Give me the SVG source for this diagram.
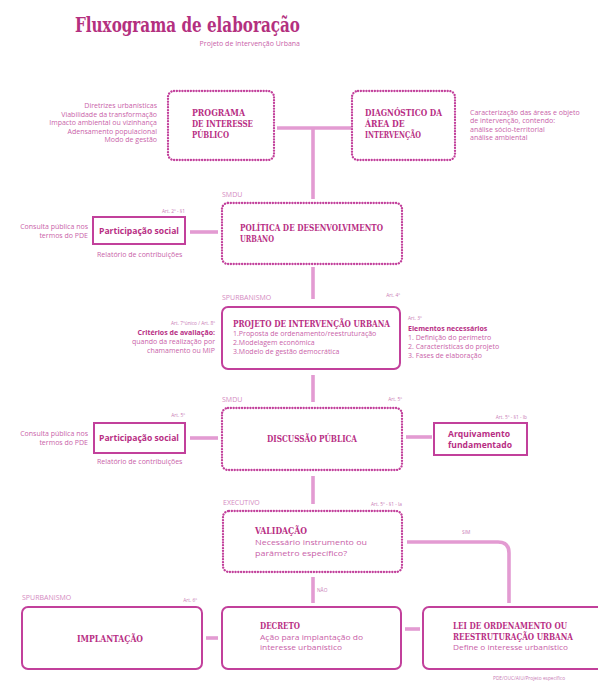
<svg xmlns="http://www.w3.org/2000/svg" width="598" height="683" viewBox="0 0 598 683">
<style>
.bg{fill:#ffffff}
.dot{fill:none;stroke:#c2409b;stroke-width:2.3;stroke-dasharray:0.1 2.7;stroke-linecap:round}
.sol{fill:none;stroke:#c2409b;stroke-width:2}
.con{fill:none;stroke:#e39bd2;stroke-width:3.6}
.hd{font-family:"DejaVu Serif Condensed","DejaVu Serif",serif;font-weight:bold;font-size:8.6px;fill:#b82e84}
.bd{font-family:"Open Sans","Liberation Sans",sans-serif;font-size:7px;fill:#c95fa9}
.bdb{font-family:"Open Sans","Liberation Sans",sans-serif;font-size:7px;font-weight:bold;fill:#b82e84}
.lb{font-family:"Open Sans","Liberation Sans",sans-serif;font-size:7px;fill:#d48abf}
.art{font-family:"Open Sans","Liberation Sans",sans-serif;font-size:4.8px;fill:#c87ab5}
.ps{font-family:"Open Sans","Liberation Sans",sans-serif;font-size:8px;font-weight:bold;fill:#b82e84}
.bx{font-family:"Open Sans","Liberation Sans",sans-serif;font-size:7.4px;fill:#c95fa9}
</style>
<rect class="bg" x="0" y="0" width="598" height="683"/>
<g id="title">
<text x="75" y="32" font-family="DejaVu Serif Condensed,DejaVu Serif,serif" font-weight="bold" font-size="21" fill="#b4307f" textLength="225" lengthAdjust="spacingAndGlyphs">Fluxograma de elaboração</text>
<text x="300" y="46" text-anchor="end" class="bd" font-size="6.5">Projeto de Intervenção Urbana</text>
</g>
<g id="connectors">
<line class="con" x1="277" y1="128" x2="351" y2="128"/>
<line class="con" x1="313" y1="128" x2="313" y2="199"/>
<line class="con" x1="313" y1="267" x2="313" y2="299"/>
<line class="con" x1="313" y1="375" x2="313" y2="402"/>
<line class="con" x1="313" y1="476" x2="313" y2="504"/>
<line class="con" x1="313" y1="577" x2="313" y2="603"/>
<line class="con" x1="190" y1="232" x2="218" y2="232"/>
<line class="con" x1="190" y1="438" x2="218" y2="438"/>
<line class="con" x1="406" y1="437" x2="432" y2="437"/>
<line class="con" x1="206" y1="638" x2="218" y2="638"/>
<line class="con" x1="405" y1="629" x2="420" y2="629"/>
<path class="con" d="M407 542 H498 Q509 542 509 553 V603"/>
<text x="462" y="534" class="art">SIM</text>
<text x="317" y="592" class="art" font-size="5.5">NÃO</text>
</g>
<g id="programa">
<rect class="dot" x="168" y="91" width="106" height="69" rx="6"/>
<text class="hd" x="192" y="116" textLength="53" lengthAdjust="spacingAndGlyphs">PROGRAMA</text>
<text class="hd" x="192" y="127" textLength="61" lengthAdjust="spacingAndGlyphs">DE INTERESSE</text>
<text class="hd" x="192" y="138" textLength="37" lengthAdjust="spacingAndGlyphs">PÚBLICO</text>
<g class="bd" text-anchor="end">
<text x="157" y="108">Diretrizes urbanísticas</text>
<text x="157" y="116.5">Viabilidade da transformação</text>
<text x="157" y="125">Impacto ambiental ou vizinhança</text>
<text x="157" y="133.5">Adensamento populacional</text>
<text x="157" y="142">Modo de gestão</text>
</g>
</g>
<g id="diagnostico">
<rect class="dot" x="352" y="91" width="103" height="69" rx="6"/>
<text class="hd" x="365" y="116" textLength="77" lengthAdjust="spacingAndGlyphs">DIAGNÓSTICO DA</text>
<text class="hd" x="365" y="127">ÁREA DE</text>
<text class="hd" x="365" y="138" textLength="56" lengthAdjust="spacingAndGlyphs">INTERVENÇÃO</text>
<g class="bd">
<text x="470" y="115">Caracterização das áreas e objeto</text>
<text x="470" y="123">de intervenção, contendo:</text>
<text x="470" y="131.5">análise sócio-territorial</text>
<text x="470" y="140">análise ambiental</text>
</g>
</g>
<g id="politica">
<text x="222" y="197" class="lb">SMDU</text>
<rect class="dot" x="222" y="203" width="180" height="61" rx="6"/>
<text class="hd" x="240" y="231" textLength="143" lengthAdjust="spacingAndGlyphs">POLÍTICA DE DESENVOLVIMENTO</text>
<text class="hd" x="240" y="242" textLength="34" lengthAdjust="spacingAndGlyphs">URBANO</text>
</g>
<g id="participacao1">
<text x="185" y="213" class="art" text-anchor="end">Art. 2º - §1</text>
<rect class="sol" x="93" y="217" width="92" height="27"/>
<text x="139" y="234" class="ps" text-anchor="middle" textLength="80" lengthAdjust="spacingAndGlyphs">Participação social</text>
<text x="88" y="229" class="bd" text-anchor="end">Consulta pública nos</text>
<text x="88" y="237.5" class="bd" text-anchor="end">termos do PDE</text>
<text x="97" y="257" class="bd">Relatório de contribuições</text>
</g>
<g id="projeto">
<text x="222" y="300" class="lb">SPURBANISMO</text>
<text x="400" y="297" class="art" text-anchor="end">Art. 4º</text>
<rect class="sol" x="222" y="307" width="178" height="62" rx="6"/>
<text class="hd" x="233" y="327" textLength="157" lengthAdjust="spacingAndGlyphs">PROJETO DE INTERVENÇÃO URBANA</text>
<g class="bd">
<text x="233" y="336">1.Proposta de ordenamento/reestruturação</text>
<text x="233" y="345">2.Modelagem econômica</text>
<text x="233" y="354">3.Modelo de gestão democrática</text>
</g>
<g text-anchor="end">
<text x="215" y="325" class="art">Art. 7ºúnico / Art. 8º</text>
<text x="215" y="335" class="bdb">Critérios de avaliação:</text>
<text x="215" y="344" class="bd">quando da realização por</text>
<text x="215" y="353" class="bd">chamamento ou MIP</text>
</g>
<text x="408" y="320" class="art">Art. 3º</text>
<text x="408" y="331" class="bdb">Elementos necessários</text>
<g class="bd">
<text x="408" y="340">1. Definição do perímetro</text>
<text x="408" y="349">2. Características do projeto</text>
<text x="408" y="358">3. Fases de elaboração</text>
</g>
</g>
<g id="discussao">
<text x="222" y="402" class="lb">SMDU</text>
<text x="402" y="401" class="art" text-anchor="end">Art. 5º</text>
<rect class="dot" x="222" y="408" width="180" height="62" rx="6"/>
<text class="hd" x="312" y="442" text-anchor="middle" textLength="90" lengthAdjust="spacingAndGlyphs">DISCUSSÃO PÚBLICA</text>
</g>
<g id="participacao2">
<text x="185" y="417" class="art" text-anchor="end">Art. 5º</text>
<rect class="sol" x="94" y="423" width="91" height="30"/>
<text x="139" y="441" class="ps" text-anchor="middle" textLength="80" lengthAdjust="spacingAndGlyphs">Participação social</text>
<text x="88" y="436" class="bd" text-anchor="end">Consulta pública nos</text>
<text x="88" y="444.5" class="bd" text-anchor="end">termos do PDE</text>
<text x="97" y="464" class="bd">Relatório de contribuições</text>
</g>
<g id="arquivamento">
<text x="527" y="419" class="art" text-anchor="end">Art. 5º - §1 - Ib</text>
<rect class="sol" x="434" y="423" width="93" height="32"/>
<text x="448" y="437" class="ps" textLength="62" lengthAdjust="spacingAndGlyphs">Arquivamento</text>
<text x="448" y="448" class="ps" textLength="64" lengthAdjust="spacingAndGlyphs">fundamentado</text>
</g>
<g id="validacao">
<text x="223" y="505" class="lb">EXECUTIVO</text>
<text x="402" y="506" class="art" text-anchor="end">Art. 5º - §1 - Ia</text>
<rect class="dot" x="223" y="511" width="179" height="61" rx="6"/>
<text class="hd" x="255" y="534" textLength="52" lengthAdjust="spacingAndGlyphs">VALIDAÇÃO</text>
<text class="bx" x="255" y="545" textLength="112" lengthAdjust="spacingAndGlyphs">Necessário instrumento ou</text>
<text class="bx" x="255" y="556" textLength="92" lengthAdjust="spacingAndGlyphs">parâmetro específico?</text>
</g>
<g id="implantacao">
<text x="22" y="600" class="lb">SPURBANISMO</text>
<text x="197" y="602" class="art" text-anchor="end">Art. 6º</text>
<rect class="sol" x="22" y="607" width="180" height="62" rx="6"/>
<text class="hd" x="110" y="642" text-anchor="middle" textLength="66" lengthAdjust="spacingAndGlyphs">IMPLANTAÇÃO</text>
</g>
<g id="decreto">
<rect class="sol" x="222" y="607" width="179" height="62" rx="6"/>
<text class="hd" x="260" y="629" textLength="40" lengthAdjust="spacingAndGlyphs">DECRETO</text>
<text class="bx" x="260" y="640" textLength="103" lengthAdjust="spacingAndGlyphs">Ação para implantação do</text>
<text class="bx" x="260" y="650" textLength="82" lengthAdjust="spacingAndGlyphs">interesse urbanístico</text>
</g>
<g id="lei">
<rect class="sol" x="423" y="607" width="185" height="62" rx="6"/>
<text class="hd" x="453" y="629" textLength="114" lengthAdjust="spacingAndGlyphs">LEI DE ORDENAMENTO OU</text>
<text class="hd" x="453" y="640" textLength="120" lengthAdjust="spacingAndGlyphs">REESTRUTURAÇÃO URBANA</text>
<text class="bx" x="453" y="650" textLength="115" lengthAdjust="spacingAndGlyphs">Define o interesse urbanístico</text>
<text x="493" y="680" class="art" font-size="5.5">PDE/OUC/AIU/Projeto específico</text>
</g>
</svg>
